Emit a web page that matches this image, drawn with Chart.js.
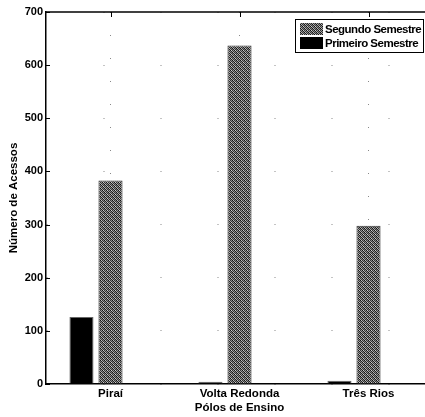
<!DOCTYPE html>
<html>
<head>
<meta charset="utf-8">
<script src="https://cdn.jsdelivr.net/npm/chart.js@4"></script>
<style>
html,body{margin:0;padding:0;background:#fff;overflow:hidden;width:425px;height:417px;}
#wrap{width:433px;height:417px;}
</style>
</head>
<body>
<div id="wrap"><canvas id="c" width="433" height="417"></canvas></div>
<script>
const categories = ['Piraí', 'Volta Redonda', 'Três Rios'];
const primeiroSemestre = [126, 4, 6];
const segundoSemestre = [383, 637, 298];
const yTicks = [0, 100, 200, 300, 400, 500, 600, 700];
const seriesLabels = ['Primeiro Semestre', 'Segundo Semestre'];
const xTitle = 'Pólos de Ensino';
const yTitle = 'Número de Acessos';

const FONT = "'Liberation Sans', Arial, sans-serif";

function makePattern(ctx) {
  const cols = [
    ['#111', '#bbb', '#333', '#888'],
    ['#777', '#222', '#aaa', '#333'],
    ['#333', '#999', '#111', '#ccc'],
    ['#aaa', '#333', '#888', '#222']
  ];
  const pc = document.createElement('canvas');
  pc.width = 4; pc.height = 4;
  const p = pc.getContext('2d');
  for (let r = 0; r < 4; r++) for (let c = 0; c < 4; c++) {
    p.fillStyle = cols[r][c];
    p.fillRect(c, r, 1, 1);
  }
  return ctx.createPattern(pc, 'repeat');
}

const canvas = document.getElementById('c');
const ctx = canvas.getContext('2d');
const hatch = makePattern(ctx);

const framePlugin = {
  id: 'frame',
  afterDraw(chart) {
    const c = chart.ctx;
    const a = chart.chartArea;
    const xs = chart.scales.x, ys = chart.scales.y;
    c.save();
    c.strokeStyle = '#000';
    c.lineWidth = 1.5;
    c.beginPath();
    c.moveTo(a.left, a.top);
    c.lineTo(a.right, a.top);
    c.stroke();
    c.lineWidth = 1;
    ys.ticks.forEach((t, i) => {
      const y = Math.round(ys.getPixelForTick(i)) + 0.5;
      c.beginPath(); c.moveTo(a.left, y); c.lineTo(a.left + 4, y); c.stroke();
    });
    categories.forEach((_, i) => {
      const x = Math.round(xs.getPixelForValue(i)) + 0.5;
      c.beginPath(); c.moveTo(x, a.top); c.lineTo(x, a.top + 5); c.stroke();
    });
    // legend
    const bx = 295.5, by = 19.5, bw = 128, bh = 33;
    c.fillStyle = '#fff';
    c.fillRect(bx, by, bw, bh);
    c.strokeStyle = '#000';
    c.lineWidth = 1;
    c.strokeRect(bx, by, bw, bh);
    const items = [
      {label: chart.data.datasets[1].label, fill: hatch},
      {label: chart.data.datasets[0].label, fill: '#000'}
    ];
    c.font = 'bold 11.5px ' + FONT;
    if ('letterSpacing' in c) c.letterSpacing = '-0.5px';
    c.textBaseline = 'middle';
    c.textAlign = 'left';
    items.forEach((it, i) => {
      const sy = 23 + i * 14;
      c.fillStyle = it.fill;
      c.fillRect(300, sy, 23, 12);
      c.fillStyle = '#000';
      c.fillText(it.label, 325, sy + 6.5);
    });
    c.restore();
  }
};

new Chart(ctx, {
  type: 'bar',
  data: {
    labels: categories,
    datasets: [
      {label: seriesLabels[0], data: primeiroSemestre, backgroundColor: '#000', borderColor: '#666', borderWidth: 1},
      {label: seriesLabels[1], data: segundoSemestre, backgroundColor: hatch, borderColor: '#333', borderWidth: 1},
      {label: '', data: categories.map(() => null), backgroundColor: 'transparent'}
    ]
  },
  options: {
    responsive: false,
    animation: false,
    devicePixelRatio: 1,
    categoryPercentage: 0.675,
    barPercentage: 0.83,
    layout: {padding: {top: 12, right: 0, left: 0, bottom: 0}},
    plugins: {legend: {display: false}, tooltip: {enabled: false}},
    scales: {
      x: {
        offset: true,
        grid: {offset: false, color: '#888', lineWidth: 1, drawTicks: false},
        border: {display: true, color: '#000', width: 1.5, dash: [1, 22]},
        ticks: {color: '#000', padding: 3, font: {family: FONT, size: 11.5, weight: 'bold'}, maxRotation: 0},
        title: {display: true, text: xTitle, color: '#000', padding: {top: 0, bottom: 2}, font: {family: FONT, size: 11.5, weight: 'bold'}},
        afterFit(s) { s.height = 33; }
      },
      y: {
        min: 0, max: 700,
        afterBuildTicks(s) { s.ticks = yTicks.map(v => ({value: v})); },
        grid: {color: '#888', lineWidth: 1, drawTicks: false},
        border: {display: true, color: '#000', width: 1.5, dash: [1, 56]},
        ticks: {color: '#000', padding: 3, font: {family: FONT, size: 11, weight: 'bold'}},
        title: {display: true, text: yTitle, color: '#000', padding: {top: 7, bottom: 0}, font: {family: FONT, size: 11.5, weight: 'bold'}},
        afterFit(s) { s.width = 46; }
      }
    }
  },
  plugins: [framePlugin]
});
</script>
</body>
</html>
